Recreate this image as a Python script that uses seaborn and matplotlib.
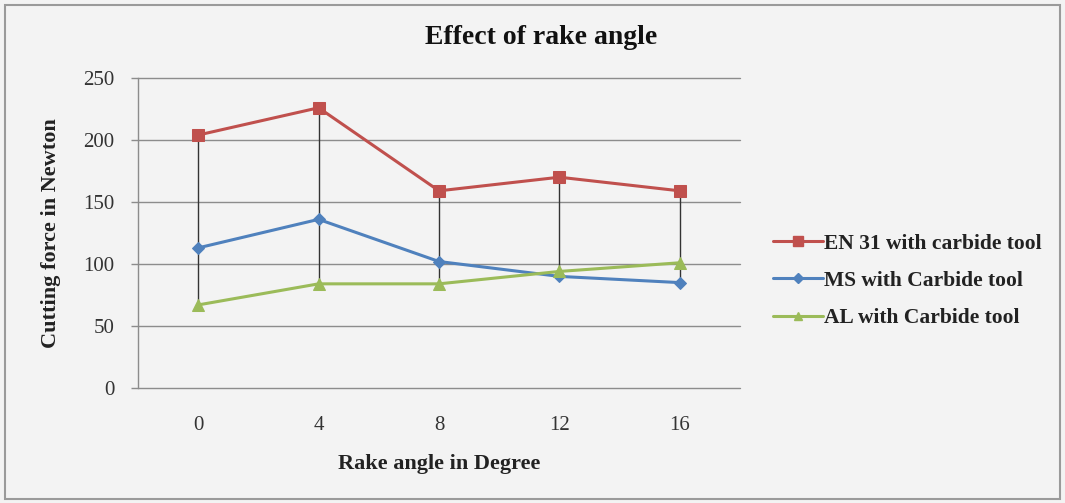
import matplotlib
matplotlib.use("Agg")
import matplotlib.pyplot as plt
import seaborn as sns
import pandas as pd
from matplotlib.patches import Rectangle
from matplotlib.lines import Line2D

# Cutting force (N) at each rake angle, per work material
rake_angles = ["0", "4", "8", "12", "16"]
en31_carbide = [204, 226, 159, 170, 159]
ms_carbide = [113, 136, 102, 90, 85]
al_carbide = [67, 84, 84, 94, 101]
series_names = ["EN 31 with carbide tool", "MS with Carbide tool", "AL with Carbide tool"]
y_ticks = [0, 50, 100, 150, 200, 250]

colors = ["#C0504D", "#4F81BD", "#9BBB59"]
markers = ["s", "D", "^"]
marker_sizes = [9, 6, 8]
legend_marker_sizes = [7, 5, 6]

rows = []
for name, vals in zip(series_names, [en31_carbide, ms_carbide, al_carbide]):
    for i, (a, v) in enumerate(zip(rake_angles, vals)):
        rows.append({"pos": i, "angle": a, "force": v, "series": name})
df = pd.DataFrame(rows)

sns.set_theme(style="white")
plt.rcParams["font.family"] = ["Liberation Serif", "DejaVu Serif"]

bg = "#f3f3f3"
fig = plt.figure(figsize=(10.65, 5.03), dpi=100, facecolor=bg)
ax = fig.add_axes([138 / 1065, 1 - 388 / 503, (740 - 138) / 1065, (388 - 78) / 503])
ax.set_facecolor(bg)

# outer chart border
fig.patches.append(Rectangle((5 / 1065, 4 / 503), 1055 / 1065, 494 / 503,
                             transform=fig.transFigure, fill=False,
                             edgecolor="#9a9a9a", linewidth=1.5))

# gridlines
for t in y_ticks:
    ax.axhline(t, color="#8c8c8c", linewidth=1.0, zorder=0, clip_on=False)

# high-low lines between the highest and lowest value at each angle
highs = [max(v) for v in zip(en31_carbide, ms_carbide, al_carbide)]
lows = [min(v) for v in zip(en31_carbide, ms_carbide, al_carbide)]
ax.vlines(range(len(rake_angles)), lows, highs, color="#333333", linewidth=1.0, zorder=1)

for name, c, m, ms in zip(series_names, colors, markers, marker_sizes):
    sub = df[df["series"] == name]
    sns.lineplot(data=sub, x="pos", y="force", ax=ax, color=c, linewidth=2.2,
                 marker=m, markersize=ms, markeredgecolor=c, markerfacecolor=c,
                 legend=False, zorder=3)

ax.set_xlim(-0.5, len(rake_angles) - 0.5)
ax.set_ylim(0, 250)
ax.set_xticks(range(len(rake_angles)))
ax.set_xticklabels(rake_angles)
ax.set_yticks(y_ticks)
ax.tick_params(axis="x", length=0, pad=20, labelsize=15, colors="#333333")
ax.tick_params(axis="y", length=5, width=1, color="#8c8c8c", direction="out",
               left=True, pad=12, labelsize=15, colors="#333333")
for s in ["top", "right", "bottom"]:
    ax.spines[s].set_visible(False)
ax.spines["left"].set_color("#8c8c8c")
ax.spines["left"].set_linewidth(1.0)

ax.set_xlabel("Rake angle in Degree", fontsize=16, fontweight="bold", labelpad=14, color="#222222")
ax.set_ylabel("Cutting force in Newton", fontsize=16, fontweight="bold", labelpad=16, color="#222222")
fig.text(541 / 1065, 1 - 38 / 503, "Effect of rake angle", ha="center", va="center",
         fontsize=20, fontweight="bold", color="#111111")

handles = [Line2D([], [], color=c, marker=m, markersize=ms, linewidth=2.2,
                  markerfacecolor=c, markeredgecolor=c)
           for c, m, ms in zip(colors, markers, legend_marker_sizes)]
fig.legend(handles, series_names, loc="center left",
           bbox_to_anchor=(773 / 1065, 1 - 281 / 503), frameon=False,
           borderaxespad=0, borderpad=0,
           prop={"size": 15.5, "weight": "bold"}, handlelength=2.3,
           handletextpad=0.05, labelspacing=0.8, labelcolor="#222222")

fig.savefig("out.png", dpi=100, facecolor=bg)
